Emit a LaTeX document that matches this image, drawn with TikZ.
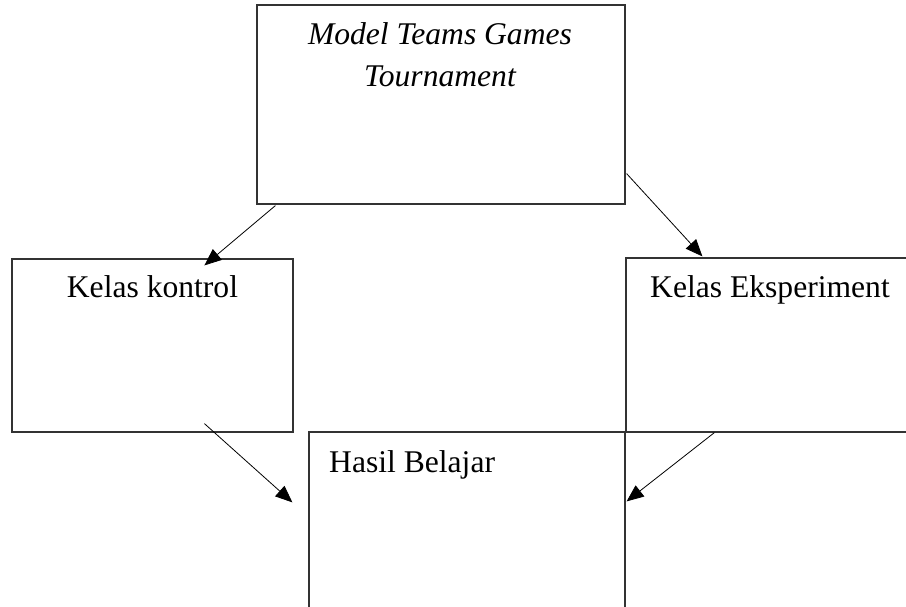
\documentclass[tikz,border=0pt]{standalone}
\usepackage{fontspec}
\setmainfont{Liberation Serif}
\usetikzlibrary{arrows.meta,calc}
\tikzset{
  kotak/.style={draw=black!80,line width=1.2pt,inner sep=0pt},
  teks/.style={font=\fontsize{31.6}{42}\selectfont,inner sep=0pt},
  panah/.style={line width=0.8pt,-{Triangle[length=17pt,width=14pt]}}
}

\begin{document}
\begin{tikzpicture}[x=1pt,y=-1pt]
\useasboundingbox (0,0) rectangle (906,607);

% kotak
\node[kotak,minimum width=368,minimum height=199] (ttg) at (441,104.5) {};
\node[kotak,minimum width=281,minimum height=173] (kontrol) at (152.5,345.5) {};
\node[kotak,minimum width=290,minimum height=174] (eksp) at (771,345) {};
\node[kotak,minimum width=316,minimum height=185] (hasil) at (467,524.5) {};

% teks
\node[teks,anchor=base] (judul1) at (440,45) {\itshape Model Teams Games};
\node[teks,anchor=base] (judul2) at (440,87) {\itshape Tournament};
\node[teks,anchor=base] (tkontrol) at (152.5,298) {Kelas kontrol};
\node[teks,anchor=base] (teksp) at (770,298) {Kelas Eksperiment};
\node[teks,anchor=base west] (thasil) at (329,472) {Hasil Belajar};

% titik panah
\coordinate (p1) at ($(ttg.south west)+(19,1)$);
\coordinate (q1) at ($(kontrol.north west)+(193,7)$);
\coordinate (p2) at ($(ttg.south east)+(1,-31)$);
\coordinate (q2) at ($(eksp.north west)+(77,-1)$);
\coordinate (p3) at ($(kontrol.south west)+(193,-9)$);
\coordinate (q3) at ($(hasil.north west)+(-16,71)$);
\coordinate (p4) at ($(eksp.south west)+(89,0)$);
\coordinate (q4) at ($(hasil.north east)+(1,70)$);

\draw[panah] (p1) -- (q1);
\draw[panah] (p2) -- (q2);
\draw[panah] (p3) -- (q3);
\draw[panah] (p4) -- (q4);

\end{tikzpicture}
\end{document}
